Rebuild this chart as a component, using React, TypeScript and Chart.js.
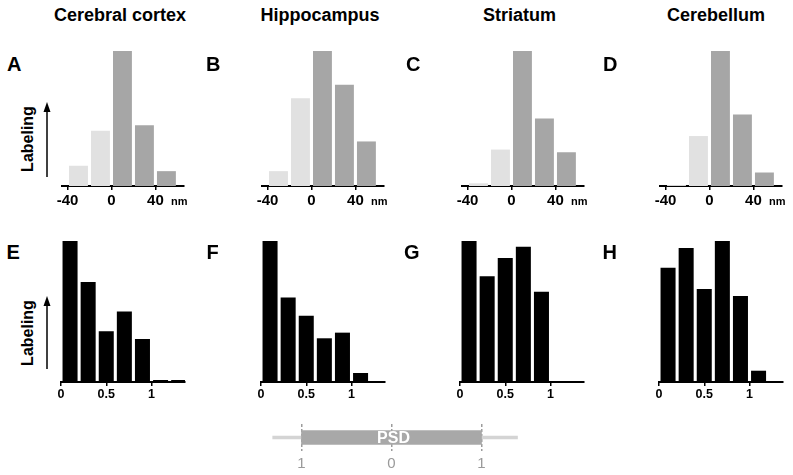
import React, { useEffect, useRef } from 'react';
import { Chart, registerables } from 'chart.js';

Chart.register(...registerables);

const FONT = '"Liberation Sans", Arial, Helvetica, sans-serif';
Chart.defaults.font.family = FONT;

// ---------- data ----------
const regionTitles = ['Cerebral cortex', 'Hippocampus', 'Striatum', 'Cerebellum'];
const topLetters = ['A', 'B', 'C', 'D'];
const bottomLetters = ['E', 'F', 'G', 'H'];
const axisTitle = 'Labeling';
const distanceUnit = 'nm';

// top row: axo-dendritic distance from the PSD (nm), bin centres
const distanceBins = [-30, -10, 10, 30, 50];
const distanceTicks = [-40, 0, 40];
const cortexDistance = [15, 41, 100, 45, 11];
const hippocampusDistance = [11, 65, 100, 75, 33];
const striatumDistance = [2, 27, 100, 50, 25];
const cerebellumDistance = [0.7, 37, 100, 53, 10];

// bottom row: normalised lateral position along the PSD, bin centres
const lateralBins = [0.1, 0.3, 0.5, 0.7, 0.9, 1.1, 1.3];
const lateralTicks = [0, 0.5, 1];
const cortexLateral = [100, 71, 36, 50, 30.5, 1.4, 1.4];
const hippocampusLateral = [100, 60, 47, 31, 35, 6.4];
const striatumLateral = [100, 75, 88, 96, 64];
const cerebellumLateral = [81, 95, 66, 100, 61, 8];

// schematic of the PSD
const psdCategories = ['PSD'];
const psdSpan: [number, number] = [-1, 1];
const membraneSpan: [number, number] = [-1.32, 1.4];
const psdTicks = [-1, 0, 1];
const psdTickLabels = ['1', '0', '1'];

// ---------- styles / layout ----------
const LIGHT = '#e1e1e1';
const DARK = '#a6a6a6';
const BLACK = '#000000';

const PAD_L = 25;
const PAD_R = 25;
const PAD_T = 5;

type Hist = {
  left: number; top: number; bottom: number; width: number; axisH: number;
  xMin: number; xMax: number; bins: number[]; values: number[]; colors: string[];
  ticks: number[]; fontSize: number; tickPadding: number; barPercentage: number;
};

const topLefts = [62, 262, 462, 660];
const bottomLefts = [61, 261, 460, 659];
const topValues = [cortexDistance, hippocampusDistance, striatumDistance, cerebellumDistance];
const bottomValues = [cortexLateral, hippocampusLateral, striatumLateral, cerebellumLateral];

const topHists: Hist[] = topLefts.map((left, i) => ({
  left, top: 51, bottom: 186, width: 122, axisH: 25,
  xMin: -45, xMax: 66,
  bins: distanceBins, values: topValues[i],
  colors: distanceBins.map((b) => (b < 0 ? LIGHT : DARK)),
  ticks: distanceTicks, fontSize: 15, tickPadding: 2, barPercentage: 0.86,
}));

const bottomHists: Hist[] = bottomLefts.map((left, i) => ({
  left, top: 241, bottom: 382, width: 124, axisH: 22,
  xMin: 0, xMax: 1.37,
  bins: lateralBins.slice(0, bottomValues[i].length), values: bottomValues[i],
  colors: bottomValues[i].map(() => BLACK),
  ticks: lateralTicks, fontSize: 12.5, tickPadding: 1, barPercentage: 0.83,
}));

const allHists = [...topHists, ...bottomHists];

function canvasBox(h: Hist) {
  return {
    x: h.left - PAD_L,
    y: h.top - PAD_T,
    w: h.width + PAD_L + PAD_R,
    h: h.bottom - h.top + PAD_T + h.axisH,
  };
}

function makeHistogram(canvas: HTMLCanvasElement, h: Hist) {
  return new Chart(canvas, {
    type: 'bar',
    data: {
      datasets: [
        {
          data: h.bins.map((x, i) => ({ x, y: h.values[i] })),
          backgroundColor: h.colors,
          borderWidth: 0,
          barPercentage: h.barPercentage,
          categoryPercentage: 1,
        },
      ],
    },
    options: {
      animation: false,
      responsive: false,
      devicePixelRatio: 1,
      layout: { padding: { left: PAD_L, right: PAD_R, top: PAD_T, bottom: 0 } },
      plugins: { legend: { display: false }, tooltip: { enabled: false } },
      scales: {
        x: {
          type: 'linear',
          min: h.xMin,
          max: h.xMax,
          offset: false,
          afterBuildTicks: (s: any) => {
            s.ticks = h.ticks.map((v) => ({ value: v }));
          },
          afterFit: (s: any) => {
            s.height = h.axisH;
          },
          grid: {
            display: true,
            drawOnChartArea: false,
            drawTicks: true,
            tickLength: 4,
            color: BLACK,
            lineWidth: 1.5,
            offset: false,
          },
          border: { display: true, color: BLACK, width: 2 },
          ticks: {
            autoSkip: false,
            maxRotation: 0,
            padding: h.tickPadding,
            color: BLACK,
            font: { family: FONT, size: h.fontSize, weight: 'bold' },
            callback: (v: any) => String(v),
          },
        },
        y: { display: false, min: 0, max: 100 },
      },
    } as any,
  });
}

// PSD schematic geometry
const PSD_BOX = { x: 260, y: 415, w: 270, h: 60 };

const psdLabelPlugin = {
  id: 'psdLabel',
  afterDatasetsDraw(chart: any) {
    const el = chart.getDatasetMeta(0).data[0];
    if (!el) return;
    const { x, base, y } = el.getProps(['x', 'base', 'y'], true);
    const ctx = chart.ctx;
    ctx.save();
    ctx.fillStyle = '#ffffff';
    ctx.font = `bold 16px ${FONT}`;
    ctx.textAlign = 'center';
    ctx.textBaseline = 'middle';
    ctx.fillText(String(chart.data.labels[0]), (x + base) / 2 + 2, y + 1);
    ctx.restore();
  },
};

function makePsd(canvas: HTMLCanvasElement) {
  return new Chart(canvas, {
    type: 'bar',
    data: {
      labels: psdCategories,
      datasets: [
        { data: [psdSpan], backgroundColor: '#a8a8a8', barThickness: 14, grouped: false, borderWidth: 0 },
        { data: [membraneSpan], backgroundColor: '#d4d4d4', barThickness: 3, grouped: false, borderWidth: 0 },
      ],
    },
    options: {
      indexAxis: 'y',
      animation: false,
      responsive: false,
      devicePixelRatio: 1,
      layout: { padding: { left: 10, right: 8, top: 9, bottom: 0 } },
      plugins: { legend: { display: false }, tooltip: { enabled: false } },
      scales: {
        x: {
          type: 'linear',
          min: -1.35,
          max: 1.45,
          afterBuildTicks: (s: any) => {
            s.ticks = psdTicks.map((v) => ({ value: v }));
          },
          afterFit: (s: any) => {
            s.height = 24;
          },
          grid: {
            display: true,
            drawOnChartArea: true,
            drawTicks: false,
            color: '#9c9c9c',
            lineWidth: 1.5,
          },
          border: { display: false, dash: [3, 2] },
          ticks: {
            autoSkip: false,
            maxRotation: 0,
            padding: 4,
            color: '#9a9a9a',
            font: { family: FONT, size: 15, weight: 'normal' },
            callback: (_v: any, i: number) => psdTickLabels[i],
          },
        },
        y: { display: false },
      },
    } as any,
    plugins: [psdLabelPlugin],
  });
}

// ---------- text helpers ----------
const ASC = 0.8465; // Liberation Sans baseline offset for line-height 1

function Txt(props: {
  x: number; baseline: number; size: number; bold?: boolean; color?: string;
  center?: boolean; children: React.ReactNode;
}) {
  const { x, baseline, size, bold, color, center, children } = props;
  const style: React.CSSProperties = {
    position: 'absolute',
    top: baseline - ASC * size,
    left: center ? x - 150 : x,
    width: center ? 300 : undefined,
    textAlign: center ? 'center' : 'left',
    fontSize: size,
    lineHeight: `${size}px`,
    fontWeight: bold ? 700 : 400,
    color: color || '#000',
    whiteSpace: 'nowrap',
    fontFamily: FONT,
  };
  return <div style={style}>{children}</div>;
}

function Rotated(props: { cx: number; cy: number; size: number; children: React.ReactNode }) {
  return (
    <div
      style={{
        position: 'absolute',
        left: props.cx,
        top: props.cy,
        transform: 'translate(-50%, -50%) rotate(-90deg)',
        fontSize: props.size,
        lineHeight: `${props.size}px`,
        fontWeight: 700,
        whiteSpace: 'nowrap',
        fontFamily: FONT,
        color: '#000',
      }}
    >
      {props.children}
    </div>
  );
}

const titleCenters = [120, 320, 519.5, 716];
const topLetterLefts = [7, 206, 406, 603];
const bottomLetterLefts = [6.5, 206.5, 404, 602.5];
const nmLefts = [171, 371, 571, 769];

export default function App() {
  const refs = useRef<(HTMLCanvasElement | null)[]>([]);
  const psdRef = useRef<HTMLCanvasElement | null>(null);

  useEffect(() => {
    const charts: Chart[] = [];
    allHists.forEach((h, i) => {
      const c = refs.current[i];
      if (c) charts.push(makeHistogram(c, h));
    });
    if (psdRef.current) charts.push(makePsd(psdRef.current));
    return () => charts.forEach((c) => c.destroy());
  }, []);

  return (
    <div
      style={{
        position: 'fixed',
        left: 0,
        top: 0,
        width: 793,
        height: 475,
        background: '#fff',
        overflow: 'hidden',
        fontFamily: FONT,
      }}
    >
      {allHists.map((h, i) => {
        const b = canvasBox(h);
        return (
          <canvas
            key={i}
            ref={(el) => {
              refs.current[i] = el;
            }}
            width={b.w}
            height={b.h}
            style={{ position: 'absolute', left: b.x, top: b.y, width: b.w, height: b.h }}
          />
        );
      })}
      <canvas
        ref={psdRef}
        width={PSD_BOX.w}
        height={PSD_BOX.h}
        style={{ position: 'absolute', left: PSD_BOX.x, top: PSD_BOX.y, width: PSD_BOX.w, height: PSD_BOX.h }}
      />

      {regionTitles.map((t, i) => (
        <Txt key={t} x={titleCenters[i]} baseline={21} size={18} bold center>
          {t}
        </Txt>
      ))}
      {topLetters.map((l, i) => (
        <Txt key={l} x={topLetterLefts[i]} baseline={70.5} size={20} bold>
          {l}
        </Txt>
      ))}
      {bottomLetters.map((l, i) => (
        <Txt key={l} x={bottomLetterLefts[i]} baseline={259} size={20} bold>
          {l}
        </Txt>
      ))}
      {nmLefts.map((x, i) => (
        <Txt key={i} x={x} baseline={205.5} size={11} bold>
          {distanceUnit}
        </Txt>
      ))}

      <Rotated cx={27.5} cy={139} size={16}>
        {axisTitle}
      </Rotated>
      <Rotated cx={27.5} cy={332.5} size={16}>
        {axisTitle}
      </Rotated>

      <svg
        width={793}
        height={475}
        style={{ position: 'absolute', left: 0, top: 0, pointerEvents: 'none' }}
      >
        <line x1={47} y1={177} x2={47} y2={110} stroke="#000" strokeWidth={1.5} />
        <polygon points="47,102 43.5,112 50.5,112" fill="#000" />
        <line x1={47} y1={369} x2={47} y2={304} stroke="#000" strokeWidth={1.5} />
        <polygon points="47,296 43.5,306 50.5,306" fill="#000" />
      </svg>
    </div>
  );
}
